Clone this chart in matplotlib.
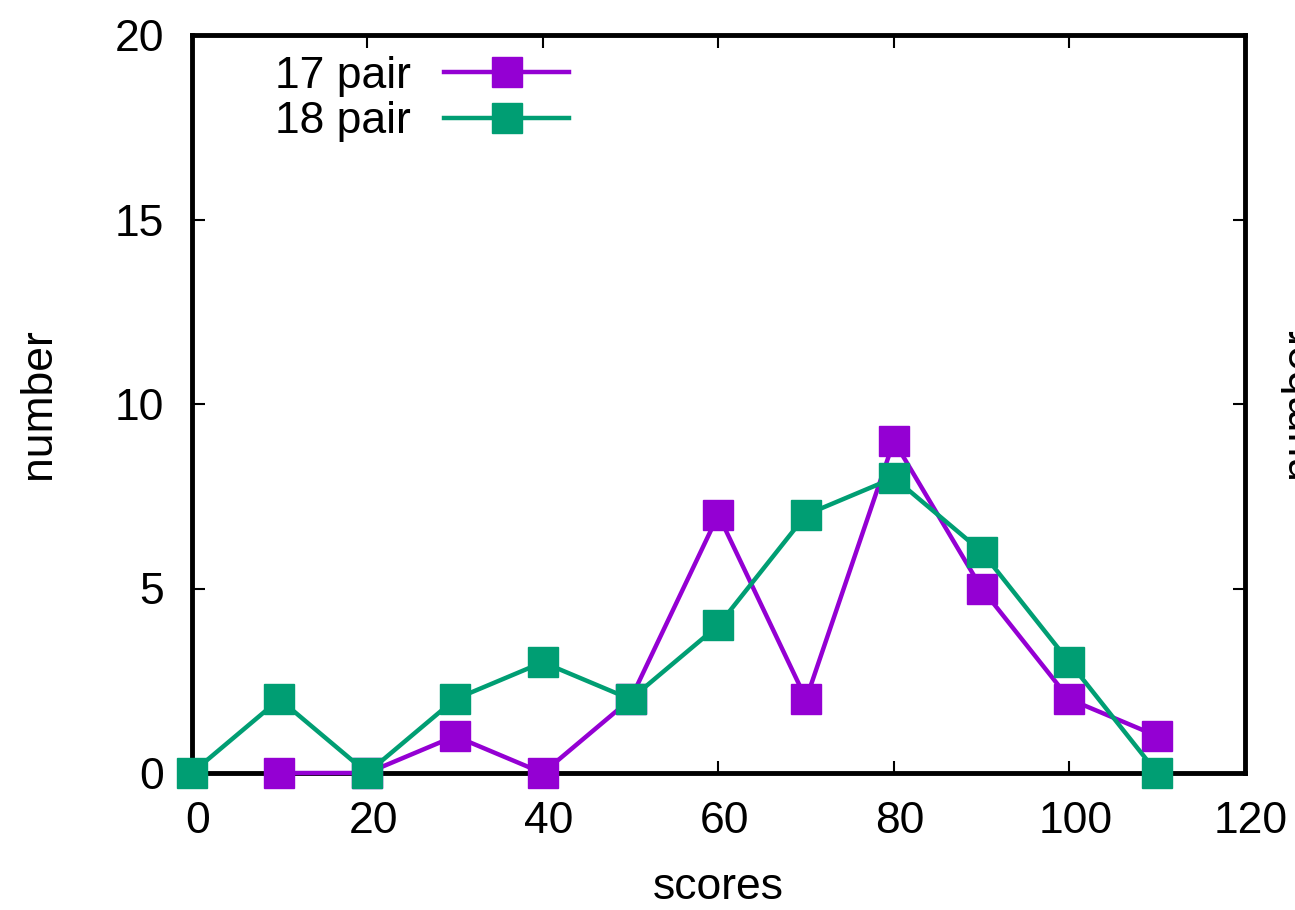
import matplotlib
matplotlib.use("Agg")
import matplotlib.pyplot as plt
from matplotlib.transforms import ScaledTranslation

scores_17 = [10, 20, 30, 40, 50, 60, 70, 80, 90, 100, 110]
number_17 = [0, 0, 1, 0, 2, 7, 2, 9, 5, 2, 1]
scores_18 = [0, 10, 20, 30, 40, 50, 60, 70, 80, 90, 100, 110]
number_18 = [0, 2, 0, 2, 3, 2, 4, 7, 8, 6, 3, 0]
labels = ["17 pair", "18 pair"]
xticks = [0, 20, 40, 60, 80, 100, 120]
yticks = [0, 5, 10, 15, 20]

plt.rcParams['font.family'] = ['Liberation Sans', 'DejaVu Sans']
FS = 32

fig = plt.figure(figsize=(12.95, 9.10), dpi=100)
ax = fig.add_axes([191.7/1295, 1-773/910, (1245-191.7)/1295, (773-35)/910])

ax.plot(scores_17, number_17, color='#9400D3', lw=3.2, marker='s', ms=21.5,
        label=labels[0], clip_on=False, zorder=3)
ax.plot(scores_18, number_18, color='#009E73', lw=3.2, marker='s', ms=21.5,
        label=labels[1], clip_on=False, zorder=4)

ax.set_xlim(0, 120)
ax.set_ylim(0, 20)
ax.set_xticks(xticks)
ax.set_yticks(yticks)
ax.tick_params(direction='in', length=9, width=1.5, labelsize=FS,
               top=True, right=True, pad=20)
ax.tick_params(axis='y', pad=20)
for sp in ax.spines.values():
    sp.set_linewidth(3.5)
    sp.set_zorder(2)

off = ScaledTranslation(6/100, 0, fig.dpi_scale_trans)
for lab in ax.get_xticklabels():
    lab.set_transform(lab.get_transform() + off)

ax.set_xlabel("scores", fontsize=FS, labelpad=18)
ax.set_ylabel("number", fontsize=FS, labelpad=40)

leg = ax.legend(loc='upper left', bbox_to_anchor=(0.054, 1.008), markerfirst=False,
                frameon=False, fontsize=FS, handlelength=2.8, handletextpad=0.75,
                labelspacing=0.1, borderaxespad=0.2)

fig.text(1279/1295, 1-403/910, "number", rotation=90, fontsize=FS,
         ha='left', va='center')

fig.savefig("out.png", dpi=100)
